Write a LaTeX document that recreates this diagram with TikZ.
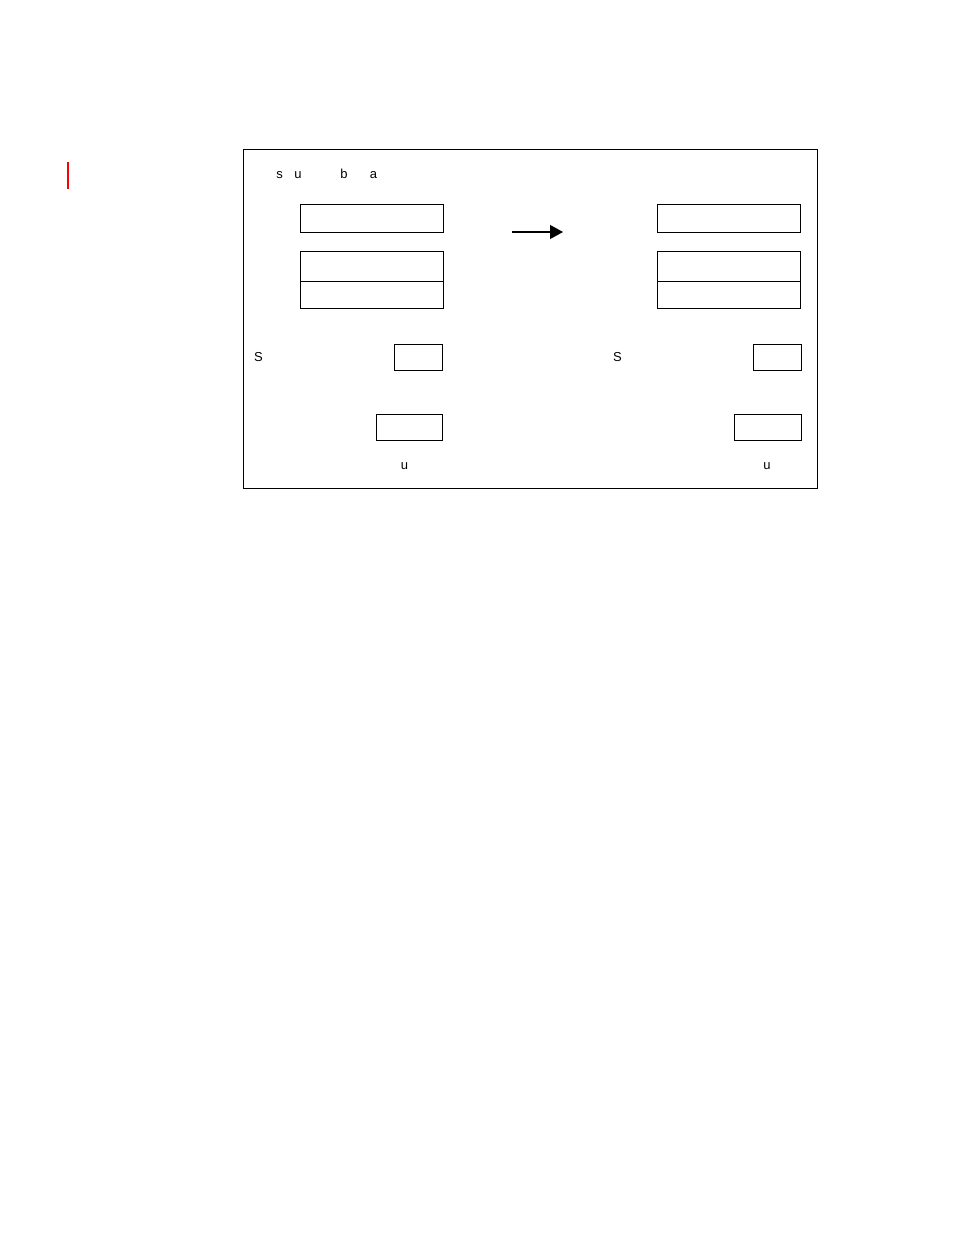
\documentclass[tikz,border=0pt]{standalone}
\usepackage{fontspec}
\setmainfont{Liberation Sans}
\usepackage{xcolor}
\usetikzlibrary{arrows.meta}

\begin{document}
\begin{tikzpicture}[x=1pt, y=-1pt,
  box/.style={draw, line width=0.8pt, inner sep=0pt, outer sep=0pt},
  lbl/.style={font=\fontsize{13}{15}\selectfont, inner sep=0pt, anchor=base}]

\useasboundingbox (0,0) rectangle (954,1235);

% frame
\node[draw, line width=0.8pt, minimum width=574pt, minimum height=339pt, inner sep=0pt] (frame) at (530,318.5) {};
\draw[red, line width=2pt] (67.7,162) -- (67.7,188.5);

% header
\node[lbl] (ls) at (279.5,178) {s};
\node[lbl] (lu) at (298,178) {u};
\node[lbl] (lb) at (344,178) {b};
\node[lbl] (la) at (373.5,178) {a};

% left boxes
\node[box, minimum width=143pt, minimum height=28pt] (L1) at (371.5,218) {};
\node[box, minimum width=143pt, minimum height=30pt] (L2) at (371.5,266) {};
\node[box, minimum width=143pt, minimum height=27pt] (L3) at (371.5,294.5) {};
\node[lbl] (LS) at (258.5,361) {S};
\node[box, minimum width=48pt, minimum height=26pt] (L4) at (418,357) {};
\node[box, minimum width=66pt, minimum height=26pt] (L5) at (409,427) {};
\node[lbl] (Lu) at (404.5,469) {u};

% right boxes
\node[box, minimum width=143pt, minimum height=28pt] (R1) at (728.5,218) {};
\node[box, minimum width=143pt, minimum height=30pt] (R2) at (728.5,266) {};
\node[box, minimum width=143pt, minimum height=27pt] (R3) at (728.5,294.5) {};
\node[lbl] (RS) at (617.5,361) {S};
\node[box, minimum width=48pt, minimum height=26pt] (R4) at (777,357) {};
\node[box, minimum width=67pt, minimum height=26pt] (R5) at (767.5,427) {};
\node[lbl] (Ru) at (767,469) {u};

% arrow
\coordinate (A0) at (512,232);
\coordinate (A1) at (563,232);
\draw[line width=1.2pt, -{Triangle[length=13pt, width=14pt]}] (A0) -- (A1);

\end{tikzpicture}
\end{document}
